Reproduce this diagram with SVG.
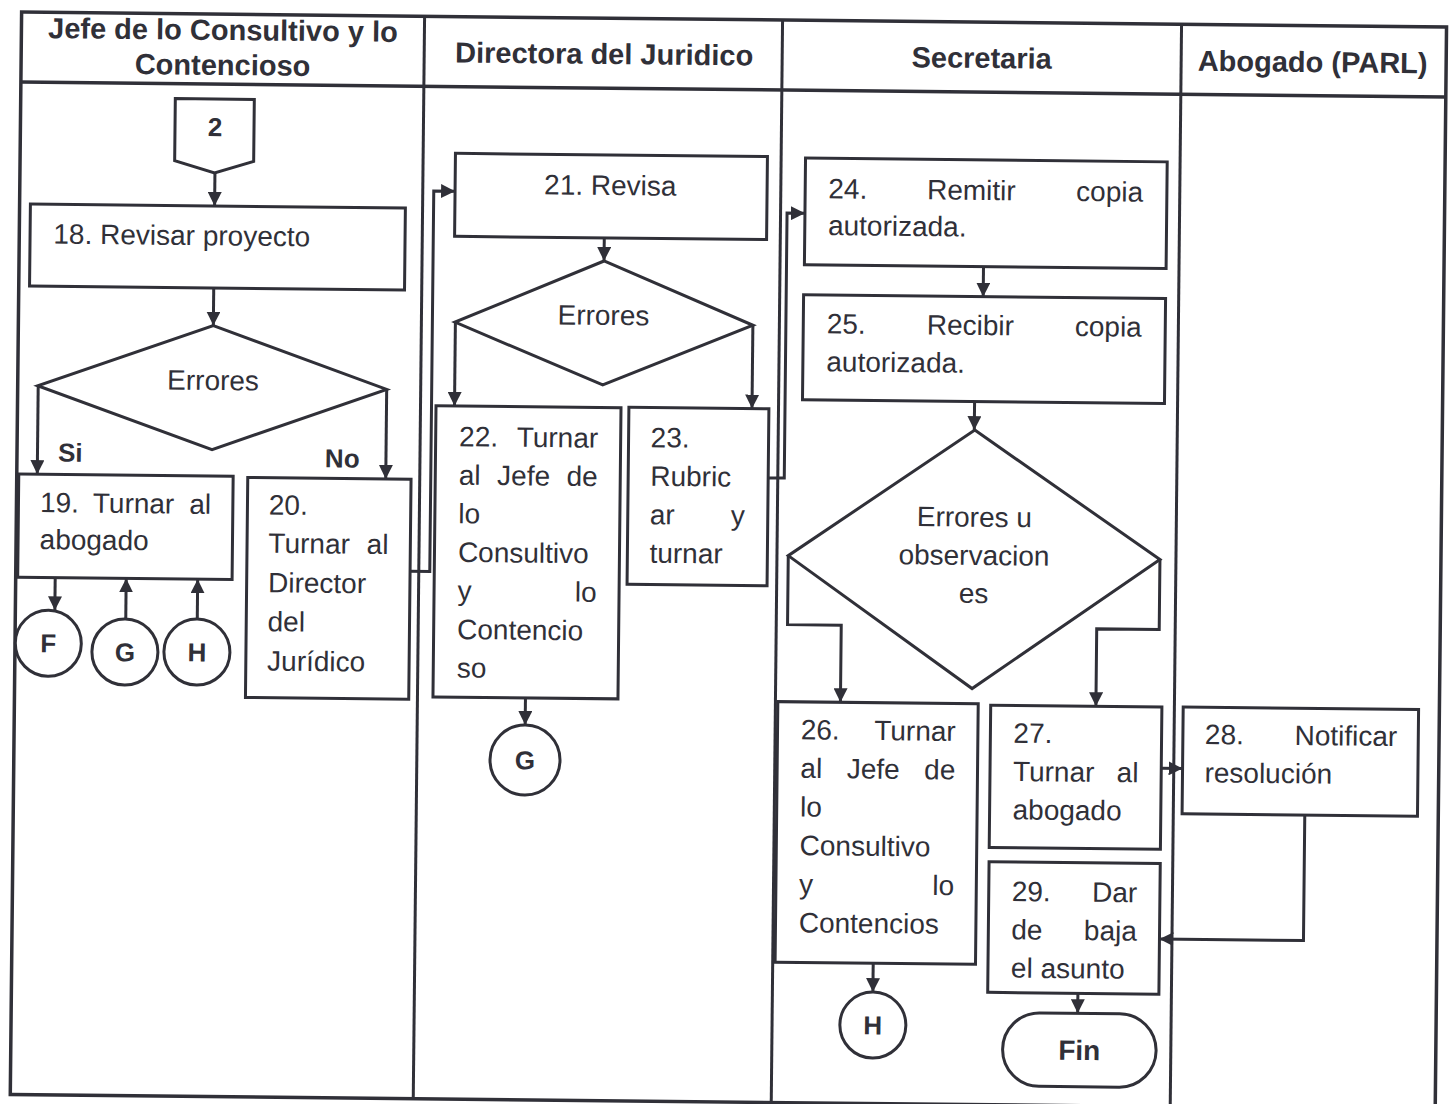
<svg xmlns="http://www.w3.org/2000/svg" width="1454" height="1104" viewBox="0 0 1454 1104">
<defs>
<style>
.s{fill:none;stroke:#303038;stroke-width:3}
.f{fill:none;stroke:#303038;stroke-width:3.5}
.b{fill:#fff;stroke:#303038;stroke-width:3}
.c{fill:none;stroke:#303038;stroke-width:3;marker-end:url(#ah)}
text{font-family:"Liberation Sans",Arial,sans-serif;fill:#303038}
.t{font-size:28px}
.h{font-size:29px;font-weight:bold;text-anchor:middle}
.m{text-anchor:middle}
.e{text-anchor:end}
.k{font-size:26px;font-weight:bold}
</style>
<marker id="ah" markerUnits="userSpaceOnUse" markerWidth="16" markerHeight="14" refX="14" refY="7" orient="auto"><path d="M0,0 L14,7 L0,14 z" fill="#303038"/></marker>
</defs>
<rect width="1454" height="1104" fill="#fff"/>
<g transform="rotate(0.6 727 552)">
<g id="lanes">
<rect x="16" y="19.5" width="1425" height="1082.5" class="f"/>
<line x1="16" y1="89.5" x2="1441" y2="89.5" class="f"/>
<line x1="419" y1="19.5" x2="419" y2="1102" class="s"/>
<line x1="777" y1="19.5" x2="777" y2="1102" class="s"/>
<line x1="1176" y1="19.5" x2="1176" y2="1102" class="s"/>
<text class="h" x="217.5" y="45.3">Jefe de lo Consultivo y lo</text>
<text class="h" x="217.5" y="80.3">Contencioso</text>
<text class="h" x="599" y="65.3">Directora del Juridico</text>
<text class="h" x="976.5" y="65.3">Secretaria</text>
<text class="h" x="1307.5" y="65.9">Abogado (PARL)</text>
</g>
<g id="connectors">
<path class="c" d="M211,178.4 V211.4"/>
<path class="c" d="M211,293.4 V331"/>
<path class="c" d="M36.5,393 V481.4"/>
<path class="c" d="M385,393 V482.5"/>
<path class="c" d="M55.5,584.7 V617.4"/>
<path class="c" d="M126.5,625.3 V584.7"/>
<path class="c" d="M198,624.6 V584.7"/>
<path class="c" d="M410.3,574.5 H430 V194 H451.3"/>
<path class="c" d="M601,239.2 V262.3"/>
<path class="c" d="M453,325 V408.8"/>
<path class="c" d="M750.5,325 V408.3"/>
<path class="c" d="M527,700 V727.1"/>
<path class="c" d="M767.4,477.5 H783.5 V212.5 H801.4"/>
<path class="c" d="M980.5,264 V294"/>
<path class="c" d="M973,399 V427.5"/>
<path class="c" d="M788.3,555 V624 H842 V701.1"/>
<path class="c" d="M1160,555 V625 H1097.5 V702.4"/>
<path class="c" d="M877.5,961.7 V990.5"/>
<path class="c" d="M1163.5,763.7 H1184.8"/>
<path class="c" d="M1307.5,809 V934.5 H1163.5"/>
<path class="c" d="M1082.5,989.6 V1009.6"/>
</g>
<g id="n2">
<polygon class="b" points="170.6,104.4 249.6,104.4 249.6,166.4 210.6,178.4 170.6,166.4"/>
<text class="k m" x="210.6" y="141.4">2</text>
</g>
<g id="n18">
<rect class="b" x="26.8" y="211.4" width="375" height="82"/>
<text class="t" x="50.1" y="250.7">18. Revisar proyecto</text>
</g>
<g id="d1">
<polygon class="b" points="211,331 385,393 211,455 36,393"/>
<text class="t m" x="211.3" y="395.4">Errores</text>
<text class="k" x="57" y="468.6">Si</text>
<text class="k" x="324" y="471.5">No</text>
</g>
<g id="n19">
<rect class="b" x="18" y="481.4" width="214.4" height="103.3"/>
<text class="t" x="39.6" y="519.3">19.</text>
<text class="t" x="92.4" y="519.3">Turnar</text>
<text class="t e" x="210.6" y="519.3">al</text>
<text class="t" x="39.6" y="556.3">abogado</text>
</g>
<g id="n20">
<rect class="b" x="247" y="482.5" width="163.3" height="220"/>
<text class="t" x="268.4" y="519.3">20.</text>
<text class="t" x="268.4" y="557.6">Turnar</text>
<text class="t e" x="388.4" y="557.6">al</text>
<text class="t" x="268.4" y="597">Director</text>
<text class="t" x="268.4" y="636">del</text>
<text class="t" x="268.4" y="675.3">Jurídico</text>
</g>
<g id="cF">
<circle class="b" cx="49.3" cy="650.4" r="33"/>
<text class="k m" x="49.3" y="659.5">F</text>
</g>
<g id="cG1">
<circle class="b" cx="126" cy="658.3" r="33"/>
<text class="k m" x="126" y="667.6">G</text>
</g>
<g id="cH1">
<circle class="b" cx="198" cy="657.6" r="33"/>
<text class="k m" x="198" y="666.9">H</text>
</g>
<g id="n21">
<rect class="b" x="451.3" y="156.2" width="312" height="83"/>
<text class="t m" x="606.5" y="196.3">21. Revisa</text>
</g>
<g id="d2">
<polygon class="b" points="601,262.3 750.6,325 601,386.3 452.6,325"/>
<text class="t m" x="601" y="326.2">Errores</text>
</g>
<g id="n22">
<rect class="b" x="434.5" y="408.8" width="185" height="291.2"/>
<text class="t" x="458" y="449">22.</text>
<text class="t e" x="597" y="449">Turnar</text>
<text class="t" x="458" y="487.5">al</text>
<text class="t" x="496.4" y="487.5">Jefe</text>
<text class="t e" x="597" y="487.5">de</text>
<text class="t" x="458" y="526">lo</text>
<text class="t" x="458" y="564.7">Consultivo</text>
<text class="t" x="458" y="603.2">y</text>
<text class="t e" x="597" y="603.2">lo</text>
<text class="t" x="458" y="641.8">Contencio</text>
<text class="t" x="458" y="680.3">so</text>
</g>
<g id="n23">
<rect class="b" x="627.4" y="408.3" width="140" height="177"/>
<text class="t" x="649.5" y="448">23.</text>
<text class="t" x="649.5" y="486.5">Rubric</text>
<text class="t" x="649.5" y="525">ar</text>
<text class="t e" x="744.5" y="525">y</text>
<text class="t" x="649.5" y="563.5">turnar</text>
</g>
<g id="cG2">
<circle class="b" cx="527.2" cy="762.1" r="35"/>
<text class="k m" x="527.2" y="771.5">G</text>
</g>
<g id="n24">
<rect class="b" x="801.4" y="157.3" width="361.7" height="106.7"/>
<text class="t" x="824.6" y="197.3">24.</text>
<text class="t" x="923.3" y="197.3">Remitir</text>
<text class="t e" x="1139.3" y="197.3">copia</text>
<text class="t" x="824.6" y="234">autorizada.</text>
</g>
<g id="n25">
<rect class="b" x="800.9" y="294" width="362" height="105"/>
<text class="t" x="824.4" y="332.3">25.</text>
<text class="t" x="924.4" y="332.3">Recibir</text>
<text class="t e" x="1139.4" y="332.3">copia</text>
<text class="t" x="824.4" y="370.3">autorizada.</text>
</g>
<g id="d3">
<polygon class="b" points="973.5,427.5 1160,555 973.5,686 788.3,555"/>
<text class="t m" x="974" y="524.1">Errores u</text>
<text class="t m" x="974" y="562.4">observacion</text>
<text class="t m" x="974" y="600.4">es</text>
</g>
<g id="n26">
<rect class="b" x="779.4" y="701.1" width="200.4" height="260.6"/>
<text class="t" x="802.7" y="738.5">26.</text>
<text class="t e" x="957.6" y="738.5">Turnar</text>
<text class="t" x="802.7" y="777.1">al</text>
<text class="t" x="849" y="777.1">Jefe</text>
<text class="t e" x="957.6" y="777.1">de</text>
<text class="t" x="802.7" y="815.7">lo</text>
<text class="t" x="802.7" y="854.3">Consultivo</text>
<text class="t" x="802.7" y="892.9">y</text>
<text class="t e" x="957.6" y="892.9">lo</text>
<text class="t" x="802.7" y="931.5">Contencios</text>
</g>
<g id="cH2">
<circle class="b" cx="877.8" cy="1023.5" r="33"/>
<text class="k m" x="877.8" y="1032.8">H</text>
</g>
<g id="n27">
<rect class="b" x="992.3" y="702.4" width="171.2" height="142.3"/>
<text class="t" x="1015.3" y="739.7">27.</text>
<text class="t" x="1015.3" y="778">Turnar</text>
<text class="t e" x="1140.8" y="778">al</text>
<text class="t" x="1015.3" y="816.3">abogado</text>
</g>
<g id="n28">
<rect class="b" x="1184.8" y="702.3" width="235.4" height="106.7"/>
<text class="t" x="1206.8" y="739">28.</text>
<text class="t e" x="1399.2" y="739">Notificar</text>
<text class="t" x="1206.8" y="777.3">resolución</text>
</g>
<g id="n29">
<rect class="b" x="992.3" y="859" width="171.2" height="130.6"/>
<text class="t" x="1015.3" y="898">29.</text>
<text class="t e" x="1140.8" y="898">Dar</text>
<text class="t" x="1015.3" y="936.3">de</text>
<text class="t e" x="1140.8" y="936.3">baja</text>
<text class="t" x="1015.3" y="974.6">el asunto</text>
</g>
<g id="fin">
<rect class="b" x="1007.8" y="1009.6" width="153.5" height="73.4" rx="36.7"/>
<text class="m" x="1084.5" y="1056.3" font-size="28" font-weight="bold">Fin</text>
</g>
</g>
</svg>
